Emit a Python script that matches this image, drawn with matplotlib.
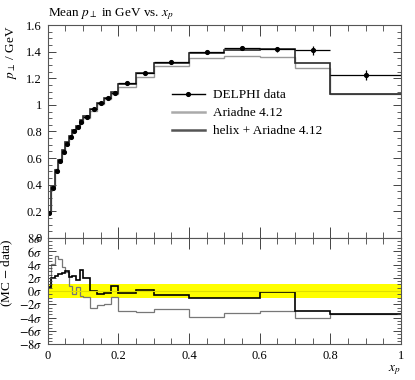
import numpy as np
import matplotlib
matplotlib.use('Agg')
import matplotlib.pyplot as plt
from matplotlib.ticker import MultipleLocator, FixedLocator, FuncFormatter
from matplotlib.lines import Line2D

plt.rcParams['font.family'] = ['Liberation Serif', 'DejaVu Serif']
plt.rcParams['mathtext.fontset'] = 'stix'
plt.rcParams['font.size'] = 9

# bin edges in x_p
edges = [0.0, 0.01, 0.02, 0.03, 0.04, 0.05, 0.06, 0.07, 0.08, 0.09, 0.10,
         0.12, 0.14, 0.16, 0.18, 0.20, 0.25, 0.30, 0.40, 0.50, 0.60, 0.70, 0.80, 1.0]

# DELPHI data, mean p_perp in GeV
data_val = [0.19, 0.375, 0.50, 0.578, 0.649, 0.708, 0.757, 0.802, 0.835, 0.869,
            0.909, 0.969, 1.016, 1.055, 1.088, 1.162, 1.237, 1.322, 1.400, 1.428,
            1.418, 1.410, 1.225]
data_err = [0.004, 0.004, 0.004, 0.004, 0.004, 0.004, 0.004, 0.004, 0.005, 0.005,
            0.005, 0.006, 0.006, 0.007, 0.007, 0.008, 0.009, 0.010, 0.012, 0.018,
            0.020, 0.032, 0.040]

# MC predictions
ariadne = [0.192, 0.391, 0.521, 0.597, 0.663, 0.720, 0.760, 0.800, 0.838, 0.865,
           0.904, 0.953, 1.003, 1.041, 1.082, 1.138, 1.209, 1.294, 1.353, 1.370,
           1.356, 1.275, 1.080]
helix = [0.193, 0.383, 0.509, 0.588, 0.660, 0.720, 0.766, 0.811, 0.844, 0.885,
         0.919, 0.969, 1.013, 1.053, 1.093, 1.160, 1.238, 1.316, 1.389, 1.411,
         1.420, 1.314, 1.085]

# (MC - data) / sigma
ariadne_dev = [0.6, 4.1, 5.3, 4.8, 3.6, 2.9, 0.7, -0.5, 0.6, -0.8, -0.9, -2.6,
               -2.1, -2.0, -0.9, -3.0, -3.1, -2.7, -3.9, -3.25, -3.0, -4.1, -3.5]
helix_dev = [0.65, 2.0, 2.3, 2.6, 2.75, 3.1, 2.2, 2.35, 1.75, 3.2, 2.0, 0.0,
             -0.45, -0.35, 0.75, -0.3, 0.15, -0.65, -1.1, -1.05, -0.1, -3.0, -3.5]

labels = ['DELPHI data', 'Ariadne 4.12', 'helix + Ariadne 4.12']
c_ari = '#999999'
c_hel = '#2a2a2a'

edges_a = np.array(edges)
centers = 0.5 * (edges_a[1:] + edges_a[:-1])
halfw = 0.5 * (edges_a[1:] - edges_a[:-1])

fig = plt.figure(figsize=(4.15, 3.8), dpi=100)
ax = fig.add_axes([0.115, 0.3737, 0.851, 0.5605])
rx = fig.add_axes([0.115, 0.094, 0.851, 0.2797], sharex=ax)

def style_axis(a):
    a.tick_params(which='both', direction='in', top=True, right=True, colors='#444444')
    a.tick_params(which='major', axis='x', length=8, width=0.7)
    a.tick_params(which='minor', axis='x', length=4, width=0.6)
    a.tick_params(which='major', axis='y', length=6, width=0.7)
    a.tick_params(which='minor', axis='y', length=3, width=0.6)
    a.tick_params(axis='both', labelcolor='black', pad=4, labelsize=9)
    for s in a.spines.values():
        s.set_color('#555555')
        s.set_linewidth(0.8)

# main panel
ax.stairs(ariadne, edges, baseline=None, color=c_ari, lw=1.0)
ax.stairs(helix, edges, baseline=None, color=c_hel, lw=1.2)
ax.errorbar(centers, data_val, xerr=halfw, yerr=data_err, fmt='o', color='black',
            ms=2.7, lw=0.9, capsize=0)
ax.set_xlim(0, 1)
ax.set_ylim(0, 1.6)
ax.yaxis.set_major_locator(MultipleLocator(0.2))
ax.yaxis.set_minor_locator(MultipleLocator(0.05))
ax.xaxis.set_major_locator(MultipleLocator(0.2))
ax.xaxis.set_minor_locator(MultipleLocator(0.05))
ax.yaxis.set_major_formatter(FuncFormatter(lambda v, p: '%g' % round(v, 2)))
style_axis(ax)
ax.tick_params(axis='x', labelbottom=False)
ax.set_ylabel(r'$p_\perp$ / GeV', loc='top', labelpad=5, fontsize=9.5)
ax.set_title(r'Mean $p_\perp$ in GeV vs. $x_p$', loc='left', pad=6, fontsize=9.5)

handles = [Line2D([], [], color='black', marker='o', ms=2.7, lw=1.0),
           Line2D([], [], color='#aaaaaa', lw=1.8),
           Line2D([], [], color='#555555', lw=1.8)]
ax.legend(handles, labels, loc='upper left', bbox_to_anchor=(0.351, 0.70),
          frameon=False, borderpad=0, borderaxespad=0, handlelength=2.5,
          handletextpad=0.6, labelspacing=0.45, fontsize=9.5)

# ratio panel
rx.axhspan(-1, 1, color='#ffff00', lw=0)
rx.axhline(0, color='#e0e000', lw=0.8)
rx.stairs(ariadne_dev, edges, baseline=None, color='#777777', lw=0.9)
rx.stairs(helix_dev, edges, baseline=None, color='black', lw=1.2)
rx.set_ylim(-8, 8)
rx.yaxis.set_major_locator(FixedLocator(range(-8, 9, 2)))
rx.yaxis.set_minor_locator(MultipleLocator(0.5))
rx.yaxis.set_major_formatter(FuncFormatter(lambda v, p: r'$%d\sigma$' % int(round(v))))
rx.xaxis.set_major_formatter(FuncFormatter(lambda v, p: '%g' % round(v, 2)))
style_axis(rx)
rx.set_ylabel(r'(MC $-$ data)', loc='top', labelpad=3, fontsize=9.5)
rx.set_xlabel(r'$x_p$', loc='right', labelpad=1, fontsize=9.5)

fig.savefig('out.png', dpi=100)
